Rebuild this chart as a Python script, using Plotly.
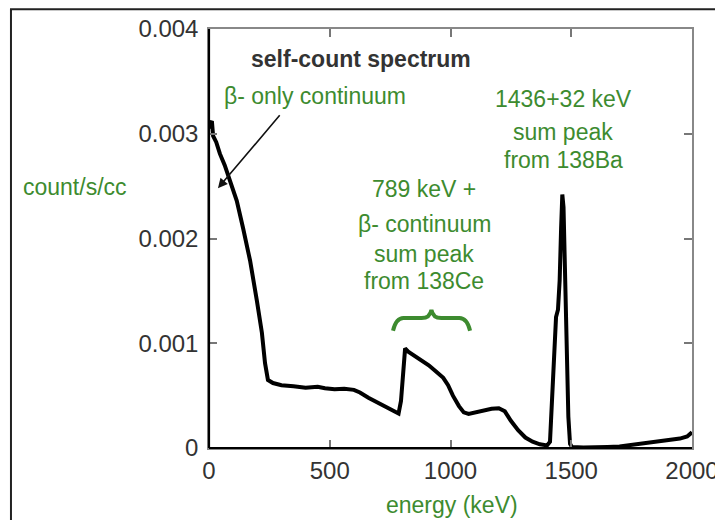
import plotly.graph_objects as go

# ---- data ----
energy_keV = [0, 5, 12, 17, 30, 45, 65, 87, 115, 141, 170, 198, 219, 232, 244, 265,
              300, 350, 400, 450, 480, 520, 560, 600, 625, 660, 700, 740, 770, 785,
              795, 805, 812, 825, 850, 880, 910, 940, 970, 990, 1010, 1035, 1055, 1075,
              1100, 1135, 1170, 1200, 1225, 1250, 1280, 1310, 1340, 1370, 1400, 1412,
              1420, 1430, 1437, 1445, 1452, 1458, 1463, 1468, 1474, 1480, 1488, 1495,
              1503, 1550, 1600, 1650, 1700, 1750, 1800, 1850, 1900, 1950, 1980, 2000]
rate = [3.05, 3.10, 3.12, 2.98, 2.92, 2.81, 2.70, 2.55, 2.36, 2.10, 1.79, 1.41, 1.10, 0.81,
        0.65, 0.62, 0.60, 0.59, 0.575, 0.585, 0.57, 0.56, 0.565, 0.555, 0.53, 0.48, 0.43,
        0.38, 0.345, 0.33, 0.45, 0.80, 0.95, 0.92, 0.88, 0.84, 0.79, 0.73, 0.67, 0.60,
        0.50, 0.40, 0.34, 0.325, 0.34, 0.355, 0.375, 0.38, 0.35, 0.26, 0.17, 0.10, 0.06,
        0.035, 0.025, 0.06, 0.50, 1.05, 1.25, 1.32, 1.60, 2.10, 2.42, 2.30, 1.60, 1.00,
        0.30, 0.04, 0.01, 0.005, 0.005, 0.01, 0.015, 0.03, 0.045, 0.06, 0.075, 0.09,
        0.11, 0.15]
rate = [r * 1e-3 for r in rate]

x_ticks = [0, 500, 1000, 1500, 2000]
x_tick_labels = ["0", "500", "1000", "1500", "2000"]
y_ticks = [0, 0.001, 0.002, 0.003, 0.004]
y_tick_labels = ["0", "0.001", "0.002", "0.003", "0.004"]

GREEN = "#3d8b2f"
DARK = "#333333"
FONT = "Arial, Liberation Sans, sans-serif"

fig = go.Figure()
fig.add_trace(go.Scatter(x=energy_keV, y=rate, mode="lines",
                         line=dict(color="black", width=4), showlegend=False,
                         hoverinfo="skip", cliponaxis=False))

axis_common = dict(showgrid=False, zeroline=False, showline=True, linecolor="#888888",
                   linewidth=1.5, mirror="ticks", ticks="inside", ticklen=8,
                   tickwidth=1.5, tickcolor="#777777", automargin=False,
                   tickfont=dict(family=FONT, size=24, color=DARK))

fig.update_xaxes(range=[0, 2000], tickvals=x_ticks, ticktext=x_tick_labels,
                 ticklabelstandoff=0, **axis_common)
fig.update_yaxes(range=[0, 0.004], tickvals=y_ticks, ticktext=y_tick_labels,
                 ticklabelstandoff=4, **axis_common)

ann = []
def txt(x, y, s, size=23, color=GREEN, bold=False, xref="x", yref="y"):
    if bold:
        s = "<b>" + s + "</b>"
    ann.append(dict(x=x, y=y, xref=xref, yref=yref, text=s, showarrow=False,
                    font=dict(family=FONT, size=size, color=color),
                    xanchor="center", yanchor="middle"))

txt(630, 0.00371, "self-count spectrum", size=23, color=DARK, bold=True)
txt(439, 0.00336, "β- only continuum")
txt(892, 0.00247, "789 keV +")
txt(892, 0.00214, "β- continuum")
txt(892, 0.00185, "sum peak")
txt(892, 0.00159, "from 138Ce")
txt(1466, 0.00333, "1436+32 keV")
txt(1466, 0.00302, "sum peak")
txt(1466, 0.00275, "from 138Ba")
txt(-0.277, 0.623, "count/s/cc", xref="paper", yref="paper")
txt(0.503, -0.136, "energy (keV)", xref="paper", yref="paper")

ann.append(dict(x=37, y=0.00248, xref="x", yref="y", ax=298, ay=0.00319,
                axref="x", ayref="y", text="", showarrow=True, arrowhead=2,
                arrowsize=1.2, arrowwidth=1.6, arrowcolor="#111111"))

shapes = [
    # darker left and bottom axis lines
    dict(type="line", xref="paper", yref="paper", x0=0, x1=0, y0=0, y1=1,
         line=dict(color="black", width=2.2)),
    dict(type="line", xref="paper", yref="paper", x0=0, x1=1, y0=0, y1=0,
         line=dict(color="black", width=2.2)),
    # outer frame of the picture
    dict(type="rect", xref="paper", yref="paper", x0=-0.41, x1=2, y0=-1, y1=1.047,
         line=dict(color="#222222", width=2)),
    # curly brace over the 138Ce sum peak
    dict(type="path", xref="x", yref="y",
         path=("M 762,0.00112 Q 775,0.00124 805,0.00124 L 880,0.00124 "
               "Q 915,0.00124 921,0.00132 Q 927,0.00124 962,0.00124 "
               "L 1037,0.00124 Q 1068,0.00124 1081,0.00112"),
         line=dict(color=GREEN, width=4)),
]

# the page adds an 8px body margin, so the figure is 8px smaller each way
fig.update_layout(width=715, height=512, margin=dict(l=201, r=31, t=21, b=72),
                  paper_bgcolor="white", plot_bgcolor="white",
                  annotations=ann, shapes=shapes, showlegend=False)

fig.write_html("out.html")
